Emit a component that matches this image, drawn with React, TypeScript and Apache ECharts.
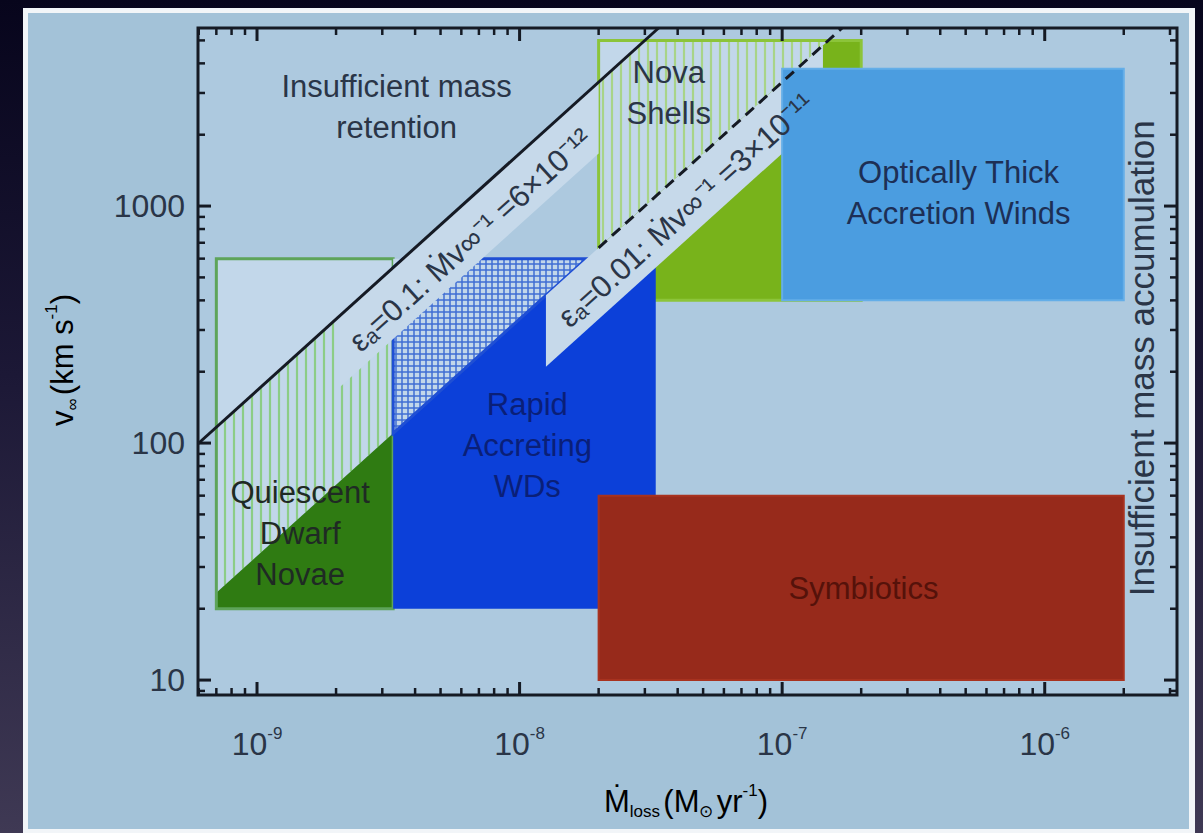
import React, { useEffect, useRef } from 'react';
import * as echarts from 'echarts';

// Axis extents: Ṁ (M☉/yr) along x, v∞ (km/s) along y, both logarithmic
const X_MIN = 5.96e-10;
const X_MAX = 3.19e-6;
const Y_MIN = 8.65;
const Y_MAX = 5640;

const xTickExponents = [-9, -8, -7, -6];
const yTickValues = [10, 100, 1000];

// Constant Ṁ/v∞ lines for two accretion efficiencies
const ratioLabels = ['εₐ=0.1: Ṁv∞⁻¹ =6×10⁻¹²', 'εₐ=0.01: Ṁv∞⁻¹ =3×10⁻¹¹'];
const ratioValues = [6e-12, 3e-11];
// Label strips drawn under each line (Ṁ where a strip begins / ends)
const stripMdotStart = [2.07e-9, 1.26e-8];
const stripMdotEnd = [2.0e-8, 1.43e-7];
const stripLabelMdot = [6.5e-9, 4.3e-8];
const stripLabelV = [719, 962];
// The efficiency 0.01 line is drawn dashed from here upward
const dashedFromMdot = 2.0e-8;

// Regions split by the two lines: Quiescent DN, Nova shells, rapid accretors
const splitMdotLow = [7.0e-10, 2.0e-8, 3.3e-9];
const splitMdotHigh = [3.3e-9, 2.0e-7, 3.3e-8];
const splitVLow = [20, 400, 20];
const splitVHigh = [600, 5000, 600];

// Plain regions: optically thick winds, symbiotics
const plainMdotLow = [1.0e-7, 2.0e-8];
const plainMdotHigh = [2.0e-6, 2.0e-6];
const plainVLow = [400, 10];
const plainVHigh = [3800, 60];

// Annotations
const noteTexts = [
  'Insufficient mass\nretention',
  'Nova\nShells',
  'Optically Thick\nAccretion Winds',
  'Quiescent\nDwarf\nNovae',
  'Rapid\nAccreting\nWDs',
  'Symbiotics',
  'Insufficient mass accumulation',
];
const noteMdot = [3.4e-9, 3.7e-8, 4.7e-7, 1.46e-9, 1.07e-8, 2.04e-7, 2.34e-6];
const noteV = [2620, 3000, 1135, 41.7, 98, 24.4, 228];

const FONT = '"Liberation Sans", Arial, Helvetica, sans-serif';
const INK = '#2a3547';
const AXIS = '#151a24';
const STRIP_FACTOR = 2;

const splitStyles = [
  { solid: '#2f7b12', hatch: '#8ccd86', pale: '#c2d7ea', outline: '#5ea45a', spacing: 9, grid: false, outlineHatch: false },
  { solid: '#78b31b', hatch: '#a8d488', pale: '#c2d7ea', outline: '#8cc43a', spacing: 9, grid: false, outlineHatch: false },
  { solid: '#0c40d9', hatch: '#3f6ed3', pale: '#c2d7ea', outline: '#1f4fd4', spacing: 6, grid: true, outlineHatch: true },
];
const plainStyles = [
  { fill: '#4b9de0', stroke: '#64aee8' },
  { fill: '#972a1b', stroke: '#a8321f' },
];
const noteStyles = [
  { color: INK, size: 31, rot: 0 },
  { color: INK, size: 31, rot: 0 },
  { color: '#1d2f55', size: 31, rot: 0 },
  { color: '#1f2a24', size: 31, rot: 0 },
  { color: '#0a1f78', size: 31, rot: 0 },
  { color: '#55120a', size: 31, rot: 0 },
  { color: INK, size: 35, rot: Math.PI / 2 },
];

type P = [number, number];

function side(a: P, b: P, p: P) {
  return (b[0] - a[0]) * (p[1] - a[1]) - (b[1] - a[1]) * (p[0] - a[0]);
}

// Keep the part of a polygon on one side of the line a-b
function clipHalf(poly: P[], a: P, b: P, keepPositive: boolean): P[] {
  const out: P[] = [];
  const n = poly.length;
  const sg = keepPositive ? 1 : -1;
  for (let i = 0; i < n; i++) {
    const cur = poly[i];
    const prev = poly[(i + n - 1) % n];
    const sc = side(a, b, cur) * sg;
    const sp = side(a, b, prev) * sg;
    const cross = (): P => {
      const t = sp / (sp - sc);
      return [prev[0] + t * (cur[0] - prev[0]), prev[1] + t * (cur[1] - prev[1])];
    };
    if (sc >= 0) {
      if (sp < 0) out.push(cross());
      out.push(cur);
    } else if (sp >= 0) {
      out.push(cross());
    }
  }
  return out;
}

function spanAt(poly: P[], c: number, axis: 0 | 1): [number, number] | null {
  const o = 1 - axis;
  let lo = Infinity;
  let hi = -Infinity;
  for (let i = 0; i < poly.length; i++) {
    const p = poly[i];
    const q = poly[(i + 1) % poly.length];
    const dp = p[axis] - c;
    const dq = q[axis] - c;
    if (dp === 0) {
      lo = Math.min(lo, p[o]);
      hi = Math.max(hi, p[o]);
    }
    if (dp * dq < 0) {
      const t = dp / (dp - dq);
      const v = p[o] + t * (q[o] - p[o]);
      lo = Math.min(lo, v);
      hi = Math.max(hi, v);
    }
  }
  return lo < hi ? [lo, hi] : null;
}

function hatchLines(poly: P[], spacing: number, axis: 0 | 1, stroke: string, width: number) {
  const out: any[] = [];
  if (poly.length < 3) return out;
  const vals = poly.map((p) => p[axis]);
  const min = Math.min(...vals);
  const max = Math.max(...vals);
  for (let c = Math.ceil(min / spacing) * spacing; c <= max; c += spacing) {
    const s = spanAt(poly, c, axis);
    if (!s) continue;
    out.push({
      type: 'line',
      shape: axis === 0 ? { x1: c, y1: s[0], x2: c, y2: s[1] } : { x1: s[0], y1: c, x2: s[1], y2: c },
      style: { stroke, lineWidth: width },
    });
  }
  return out;
}

function poly(points: P[], fill: string) {
  return { type: 'polygon', shape: { points }, style: { fill } };
}

function lineEnds(api: any, k: number): [P, P] {
  return [api.coord([X_MIN, X_MIN / k]) as P, api.coord([k * Y_MAX, Y_MAX]) as P];
}

function buildOption() {
  const xTicks: number[][] = [];
  for (let d = -10; d <= -6; d++) {
    for (let m = 1; m <= 9; m++) {
      const v = m * Math.pow(10, d);
      if (v >= X_MIN && v <= X_MAX) xTicks.push([v, Y_MIN, m === 1 ? 1 : 0]);
    }
  }
  const yTicks: number[][] = [];
  for (let d = 0; d <= 3; d++) {
    for (let m = 1; m <= 9; m++) {
      const v = m * Math.pow(10, d);
      if (v >= Y_MIN && v <= Y_MAX) yTicks.push([X_MIN, v, m === 1 ? 1 : 0]);
    }
  }

  const splitData = splitMdotLow.map((_, i) => [splitMdotLow[i], splitMdotHigh[i], splitVLow[i], splitVHigh[i]]);
  const plainData = plainMdotLow.map((_, i) => [plainMdotLow[i], plainMdotHigh[i], plainVLow[i], plainVHigh[i]]);
  const stripData = stripMdotStart.map((a, i) => [a, a / ratioValues[i]]);
  const noteData = noteMdot.map((m, i) => [m, noteV[i]]);

  const rectOf = (api: any): P[] => {
    const a = api.coord([api.value(0), api.value(2)]);
    const b = api.coord([api.value(1), api.value(3)]);
    return [
      [a[0], b[1]],
      [b[0], b[1]],
      [b[0], a[1]],
      [a[0], a[1]],
    ];
  };

  const labelRich = {
    b: { fontSize: 32, fontFamily: FONT, color: INK, lineHeight: 38 },
    s: { fontSize: 17, fontFamily: FONT, color: INK, lineHeight: 17, verticalAlign: 'top' },
  };

  const nameRich = {
    b: { fontSize: 31, fontFamily: FONT, color: INK, lineHeight: 38 },
    sub: { fontSize: 17, fontFamily: FONT, color: INK, lineHeight: 17, verticalAlign: 'bottom' },
    sup: { fontSize: 17, fontFamily: FONT, color: INK, lineHeight: 17, verticalAlign: 'top' },
  };

  return {
    animation: false,
    grid: {
      left: 198,
      right: 26,
      top: 28,
      bottom: 138,
      show: true,
      backgroundColor: '#adc9df',
      borderColor: AXIS,
      borderWidth: 3,
    },
    xAxis: {
      type: 'log',
      logBase: 10,
      min: X_MIN,
      max: X_MAX,
      axisLine: { show: false },
      axisTick: { show: false },
      splitLine: { show: false },
      axisLabel: {
        margin: 30,
        rich: labelRich,
        formatter: (v: number) => {
          const e = Math.log10(v);
          const r = Math.round(e);
          if (Math.abs(e - r) > 1e-6 || !xTickExponents.includes(r)) return '';
          return `{b|10}{s|${r}}`;
        },
      },
    },
    yAxis: {
      type: 'log',
      logBase: 10,
      min: Y_MIN,
      max: Y_MAX,
      axisLine: { show: false },
      axisTick: { show: false },
      splitLine: { show: false },
      axisLabel: {
        margin: 13,
        fontSize: 32,
        fontFamily: FONT,
        color: INK,
        formatter: (v: number) => {
          const r = Math.round(v);
          if (Math.abs(v - r) > 1e-6 || !yTickValues.includes(r)) return '';
          return String(r);
        },
      },
    },
    graphic: [
      {
        type: 'text',
        x: 686,
        y: 801,
        style: {
          text: '{b|Ṁ}{sub|loss} {b|(M}{sub|⊙} {b|yr}{sup|-1}{b|)}',
          rich: nameRich,
          align: 'center',
          verticalAlign: 'middle',
        },
      },
      {
        type: 'text',
        x: 62,
        y: 360,
        rotation: Math.PI / 2,
        style: {
          text: '{b|v}{sub|∞} {b|(km s}{sup|-1}{b|)}',
          rich: nameRich,
          align: 'center',
          verticalAlign: 'middle',
        },
      },
    ],
    series: [
      {
        type: 'custom',
        name: 'split regions',
        coordinateSystem: 'cartesian2d',
        silent: true,
        clip: true,
        z: 2,
        encode: { x: [0, 1], y: [2, 3] },
        data: splitData,
        renderItem: (params: any, api: any) => {
          const st = splitStyles[params.dataIndex];
          const rect = rectOf(api);
          const [a1, b1] = lineEnds(api, ratioValues[0]);
          const [a2, b2] = lineEnds(api, ratioValues[1]);
          const pale = clipHalf(rect, a1, b1, false);
          const mid = clipHalf(clipHalf(rect, a1, b1, true), a2, b2, false);
          const solid = clipHalf(rect, a2, b2, true);
          const children: any[] = [];
          if (pale.length > 2) children.push(poly(pale, st.pale));
          if (mid.length > 2) {
            children.push(poly(mid, st.pale));
            children.push(...hatchLines(mid, st.spacing, 0, st.hatch, st.grid ? 1.5 : 2.2));
            if (st.grid) children.push(...hatchLines(mid, st.spacing, 1, st.hatch, 1.5));
          }
          if (solid.length > 2) children.push(poly(solid, st.solid));
          children.push({
            type: 'polygon',
            shape: { points: st.outlineHatch && mid.length > 2 ? mid : rect },
            style: { fill: 'none', stroke: st.outline, lineWidth: 3 },
          });
          return { type: 'group', children };
        },
      },
      {
        type: 'custom',
        name: 'label strips',
        coordinateSystem: 'cartesian2d',
        silent: true,
        clip: true,
        z: 3,
        encode: { x: 0, y: 1 },
        data: stripData,
        renderItem: (params: any, api: any) => {
          const i = params.dataIndex;
          const k = ratioValues[i];
          const a = stripMdotStart[i];
          const b = stripMdotEnd[i];
          const pts: P[] = [
            api.coord([a, a / k]),
            api.coord([b, b / k]),
            api.coord([b, b / (STRIP_FACTOR * k)]),
            api.coord([a, a / (STRIP_FACTOR * k)]),
          ];
          return poly(pts, '#c6d9ea');
        },
      },
      {
        type: 'custom',
        name: 'plain regions',
        coordinateSystem: 'cartesian2d',
        silent: true,
        clip: true,
        z: 4,
        encode: { x: [0, 1], y: [2, 3] },
        data: plainData,
        renderItem: (params: any, api: any) => {
          const st = plainStyles[params.dataIndex];
          return {
            type: 'polygon',
            shape: { points: rectOf(api) },
            style: { fill: st.fill, stroke: st.stroke, lineWidth: 2 },
          };
        },
      },
      {
        type: 'line',
        name: ratioLabels[0],
        z: 5,
        silent: true,
        symbol: 'none',
        lineStyle: { color: AXIS, width: 3 },
        data: [
          [X_MIN, X_MIN / ratioValues[0]],
          [ratioValues[0] * Y_MAX, Y_MAX],
        ],
      },
      {
        type: 'line',
        name: ratioLabels[1],
        z: 5,
        silent: true,
        symbol: 'none',
        lineStyle: { color: AXIS, width: 3, type: [11, 7] },
        data: [
          [dashedFromMdot, dashedFromMdot / ratioValues[1]],
          [ratioValues[1] * Y_MAX, Y_MAX],
        ],
      },
      {
        type: 'custom',
        name: 'strip labels',
        coordinateSystem: 'cartesian2d',
        silent: true,
        clip: false,
        z: 6,
        encode: { x: 0, y: 1 },
        data: stripLabelMdot.map((m, i) => [m, stripLabelV[i]]),
        renderItem: (params: any, api: any) => {
          const i = params.dataIndex;
          const [a, b] = lineEnds(api, ratioValues[i]);
          const ang = Math.atan2(a[1] - b[1], b[0] - a[0]);
          const p = api.coord([api.value(0), api.value(1)]);
          return {
            type: 'text',
            x: p[0],
            y: p[1],
            rotation: ang,
            style: {
              text: ratioLabels[i],
              fill: INK,
              fontSize: 31,
              fontFamily: FONT,
              align: 'center',
              verticalAlign: 'middle',
            },
          };
        },
      },
      {
        type: 'custom',
        name: 'notes',
        coordinateSystem: 'cartesian2d',
        silent: true,
        clip: false,
        z: 6,
        encode: { x: 0, y: 1 },
        data: noteData,
        renderItem: (params: any, api: any) => {
          const i = params.dataIndex;
          const st = noteStyles[i];
          const p = api.coord([api.value(0), api.value(1)]);
          return {
            type: 'text',
            x: p[0],
            y: p[1],
            rotation: st.rot,
            style: {
              text: noteTexts[i],
              fill: st.color,
              fontSize: st.size,
              fontFamily: FONT,
              lineHeight: 41,
              align: 'center',
              verticalAlign: 'middle',
            },
          };
        },
      },
      {
        type: 'custom',
        name: 'x ticks',
        coordinateSystem: 'cartesian2d',
        silent: true,
        clip: false,
        z: 7,
        encode: { x: 0, y: 1 },
        data: xTicks,
        renderItem: (params: any, api: any) => {
          const len = api.value(2) ? 13 : 7;
          const lo = api.coord([api.value(0), Y_MIN]);
          const hi = api.coord([api.value(0), Y_MAX]);
          const style = { stroke: AXIS, lineWidth: api.value(2) ? 3 : 2.5 };
          return {
            type: 'group',
            children: [
              { type: 'line', shape: { x1: lo[0], y1: lo[1], x2: lo[0], y2: lo[1] - len }, style },
              { type: 'line', shape: { x1: hi[0], y1: hi[1], x2: hi[0], y2: hi[1] + len }, style },
            ],
          };
        },
      },
      {
        type: 'custom',
        name: 'y ticks',
        coordinateSystem: 'cartesian2d',
        silent: true,
        clip: false,
        z: 7,
        encode: { x: 0, y: 1 },
        data: yTicks,
        renderItem: (params: any, api: any) => {
          const len = api.value(2) ? 13 : 7;
          const l = api.coord([X_MIN, api.value(1)]);
          const r = api.coord([X_MAX, api.value(1)]);
          const style = { stroke: AXIS, lineWidth: api.value(2) ? 3 : 2.5 };
          return {
            type: 'group',
            children: [
              { type: 'line', shape: { x1: l[0], y1: l[1], x2: l[0] + len, y2: l[1] }, style },
              { type: 'line', shape: { x1: r[0], y1: r[1], x2: r[0] - len, y2: r[1] }, style },
            ],
          };
        },
      },
    ],
  };
}

export default function App() {
  const ref = useRef<HTMLDivElement>(null);
  useEffect(() => {
    const chart = echarts.init(ref.current as HTMLDivElement, null, { renderer: 'svg' });
    chart.setOption(buildOption() as any);
    return () => chart.dispose();
  }, []);
  return (
    <div
      style={{
        position: 'fixed',
        left: 0,
        top: 0,
        width: 1203,
        height: 833,
        overflow: 'hidden',
        background: 'linear-gradient(180deg, #07051c 0%, #1c1836 45%, #3f3954 100%)',
      }}
    >
      <div style={{ position: 'absolute', left: 23, top: 8, width: 1172, height: 830, background: '#f2f5f8' }} />
      <div style={{ position: 'absolute', left: 28, top: 13, width: 1161, height: 816, background: '#a3c2d8' }} />
      <div ref={ref} style={{ position: 'absolute', left: 0, top: 0, width: 1203, height: 833 }} />
    </div>
  );
}
